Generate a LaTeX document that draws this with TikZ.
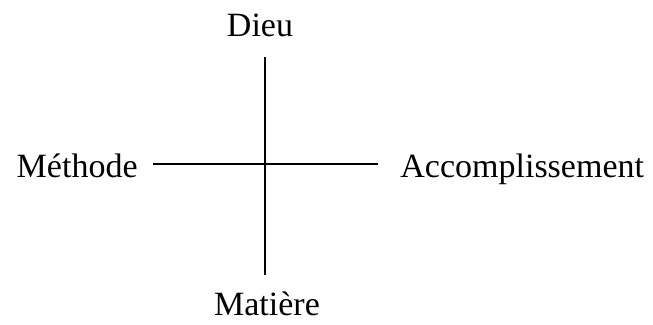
\documentclass[tikz,border=0pt]{standalone}
\usepackage{fontspec}
\setmainfont{Liberation Serif}
\usetikzlibrary{positioning}

\begin{document}
\begin{tikzpicture}[
  x=0.5pt, y=-0.5pt,
  word/.style={inner sep=0pt, font=\fontsize{17}{20}\selectfont},
  axis/.style={line width=1.1pt}
]
  \useasboundingbox (0,0) rectangle (653,325);

  \node[word, anchor=base] (dieu) at (260,37) {Dieu};
  \node[word, anchor=base] (matiere) at (267,316) {Matière};
  \node[word, anchor=base east] (methode) at (138,178) {Méthode};
  \node[word, anchor=base west] (accomp) at (400,178) {Accomplissement};

  \coordinate (top) at (265,57);
  \coordinate (bottom) at (265,275);
  \coordinate (left) at (153,164);
  \coordinate (right) at (378,164);

  \draw[axis] (top) -- (bottom);
  \draw[axis] (left) -- (right);

\end{tikzpicture}
\end{document}
